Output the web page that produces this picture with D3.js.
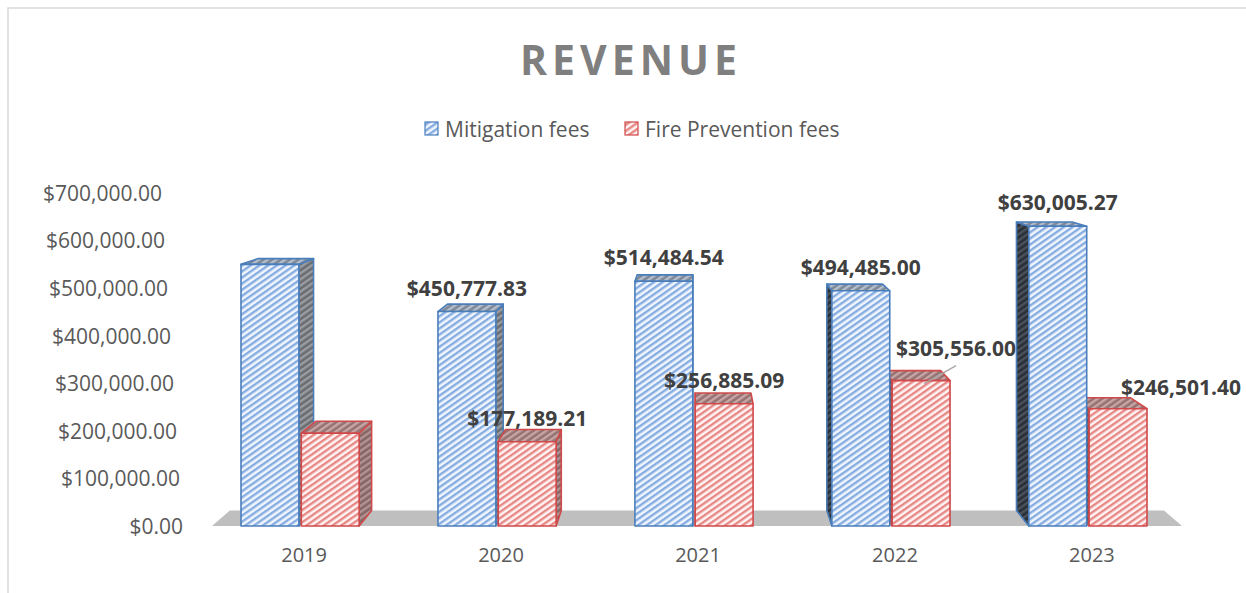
<!DOCTYPE html>
<html>
<head>
<meta charset="utf-8">
<script src="https://cdn.jsdelivr.net/npm/d3@7"></script>
<style>
  body { margin: 0; background: #fff; }
  svg { display: block; font-family: "Open Sans", "Noto Sans", sans-serif; }
</style>
</head>
<body>
<div id="chart"></div>
<script>
var years = ["2019", "2020", "2021", "2022", "2023"];
var seriesNames = ["Mitigation fees", "Fire Prevention fees"];
var mitigation = [550000, 450777.83, 514484.54, 494485.00, 630005.27];
var firePrevention = [195000, 177189.21, 256885.09, 305556.00, 246501.40];
var showLabel = [false, true, true, true, true];
var yTicks = [0, 100000, 200000, 300000, 400000, 500000, 600000, 700000];

var width = 1246, height = 593;

// one-point perspective used to fake the 3d look
var VX = 695, VY = 110, K = 0.037;
function proj(p) { return [p[0] + (VX - p[0]) * K, p[1] + (VY - p[1]) * K]; }

var svg = d3.select("#chart").append("svg")
    .attr("width", width)
    .attr("height", height);

var defs = svg.append("defs");
function stripes(id, bg, fg) {
  var p = defs.append("pattern")
      .attr("id", id)
      .attr("patternUnits", "userSpaceOnUse")
      .attr("width", 5).attr("height", 5)
      .attr("patternTransform", "rotate(-35)");
  p.append("rect").attr("width", 5).attr("height", 5).attr("fill", bg);
  p.append("rect").attr("width", 5).attr("height", 2.4).attr("fill", fg);
}
stripes("blueFront", "#f1f6fd", "#86ade2");
stripes("blueTop", "#7d8896", "#b3bfcf");
stripes("blueSideR", "#6a6c70", "#9a9da2");
stripes("blueSideL", "#2a2f36", "#4a525d");
stripes("redFront", "#fff3f3", "#e68986");
stripes("redTop", "#957272", "#c9a6a6");
stripes("redSideR", "#866565", "#b39393");
stripes("redSideL", "#5a3f3f", "#806060");

var style = [
  {front: "url(#blueFront)", top: "url(#blueTop)", sideR: "url(#blueSideR)", sideL: "url(#blueSideL)", stroke: "#4a7ebb"},
  {front: "url(#redFront)", top: "url(#redTop)", sideR: "url(#redSideR)", sideL: "url(#redSideL)", stroke: "#d0494a"}
];

// chart border
svg.append("path")
    .attr("d", "M8," + height + "V8H" + width)
    .attr("fill", "none")
    .attr("stroke", "#d9d9d9")
    .attr("stroke-width", 1.5);

// title
svg.append("text")
    .attr("x", 631)
    .attr("y", 75)
    .attr("text-anchor", "middle")
    .style("font-size", "41px")
    .style("font-weight", "bold")
    .style("letter-spacing", "5px")
    .attr("fill", "#7f7f7f")
    .text("REVENUE");

// legend
var legendX = [425, 625];
seriesNames.forEach(function(name, i) {
  svg.append("rect")
      .attr("x", legendX[i]).attr("y", 122)
      .attr("width", 13).attr("height", 13)
      .attr("fill", style[i].front)
      .attr("stroke", style[i].stroke)
      .attr("stroke-width", 1.2);
  svg.append("text")
      .attr("x", legendX[i] + 20)
      .attr("y", 137)
      .style("font-size", "21px")
      .attr("fill", "#595959")
      .text(name);
});

var x0 = d3.scaleBand()
    .domain(years)
    .range([241, 1147])
    .paddingInner(0.4)
    .paddingOuter(0);

var x1 = d3.scaleBand()
    .domain(seriesNames)
    .range([0, x0.bandwidth()])
    .paddingInner(0.04);

var y = d3.scaleLinear()
    .domain([0, 700000])
    .range([526, 193]);

// y axis, labels drift left as they go up (the back wall is in perspective)
var yAxis = svg.append("g")
    .attr("class", "y axis")
    .attr("transform", "translate(183,0)")
    .call(d3.axisLeft(y).tickValues(yTicks).tickSize(0).tickPadding(0)
      .tickFormat(function(d) { return "$" + d3.format(",.2f")(d); }));
yAxis.select(".domain").remove();
yAxis.selectAll("text")
    .attr("x", function(d) { return -(y(0) - y(d)) * 0.063; })
    .attr("dy", "0.35em")
    .style("font-size", "21px")
    .style("font-family", "'Open Sans', sans-serif")
    .attr("fill", "#595959");

// x axis labels
var xAxis = svg.append("g")
    .attr("class", "x axis")
    .attr("transform", "translate(4,547)")
    .call(d3.axisBottom(x0).tickSize(0).tickPadding(0));
xAxis.select(".domain").remove();
xAxis.selectAll("text")
    .attr("dy", "0.75em")
    .style("font-size", "20px")
    .style("font-family", "'Open Sans', sans-serif")
    .attr("fill", "#595959");

// floor
var fl = x0.range()[0] - 29, fr = x0.range()[1] + 35, fy = y(0);
var floorPts = [[fl, fy], [fr, fy], proj([fr, fy]), proj([fl, fy])];
svg.append("polygon")
    .attr("points", floorPts.map(function(p) { return p.join(","); }).join(" "))
    .attr("fill", "#bfbfbf");

// bars
var bars = [];
years.forEach(function(yr, i) {
  [mitigation, firePrevention].forEach(function(vals, s) {
    bars.push({year: yr, s: s, value: vals[i], label: showLabel[i],
      xa: x0(yr) + x1(seriesNames[s]), xb: x0(yr) + x1(seriesNames[s]) + x1.bandwidth()});
  });
});
// paint farthest from the vanishing point first
bars.sort(function(a, b) {
  return Math.abs((b.xa + b.xb) / 2 - VX) - Math.abs((a.xa + a.xb) / 2 - VX);
});

function poly(g, pts, fill, st) {
  g.append("polygon")
      .attr("points", pts.map(function(p) { return p.join(","); }).join(" "))
      .attr("fill", fill)
      .attr("stroke", st.stroke)
      .attr("stroke-width", 1.6)
      .attr("stroke-linejoin", "round");
}

var barG = svg.append("g").attr("class", "bars");
bars.forEach(function(d) {
  var st = style[d.s], yt = y(d.value), yb = y(0);
  var g = barG.append("g");
  if (d.xb < VX) {
    poly(g, [[d.xb, yt], [d.xb, yb], proj([d.xb, yb]), proj([d.xb, yt])], st.sideR, st);
  } else if (d.xa > VX) {
    poly(g, [[d.xa, yt], [d.xa, yb], proj([d.xa, yb]), proj([d.xa, yt])], st.sideL, st);
  }
  poly(g, [[d.xa, yt], [d.xb, yt], proj([d.xb, yt]), proj([d.xa, yt])], st.top, st);
  poly(g, [[d.xa, yt], [d.xb, yt], [d.xb, yb], [d.xa, yb]], st.front, st);
});

// data labels, two of them moved aside as in the original
var nudge = {"2022-1": [35, -9], "2023-1": [63, 2]};
bars.filter(function(d) { return d.label; }).forEach(function(d) {
  var n = nudge[d.year + "-" + d.s] || [0, 0];
  var cx = (d.xa + d.xb) / 2, ty = y(d.value) - 16;
  if (d.year === "2022" && d.s === 1) {
    svg.append("line")
        .attr("x1", cx + n[0]).attr("y1", ty + n[1] + 10)
        .attr("x2", cx + 3).attr("y2", y(d.value) + 3)
        .attr("stroke", "#a6a6a6")
        .attr("stroke-width", 1.2);
  }
  svg.append("text")
      .attr("x", cx + n[0])
      .attr("y", ty + n[1])
      .attr("text-anchor", "middle")
      .style("font-size", "21px")
      .style("font-weight", "bold")
      .attr("fill", "#404040")
      .text("$" + d3.format(",.2f")(d.value));
});
</script>
</body>
</html>
